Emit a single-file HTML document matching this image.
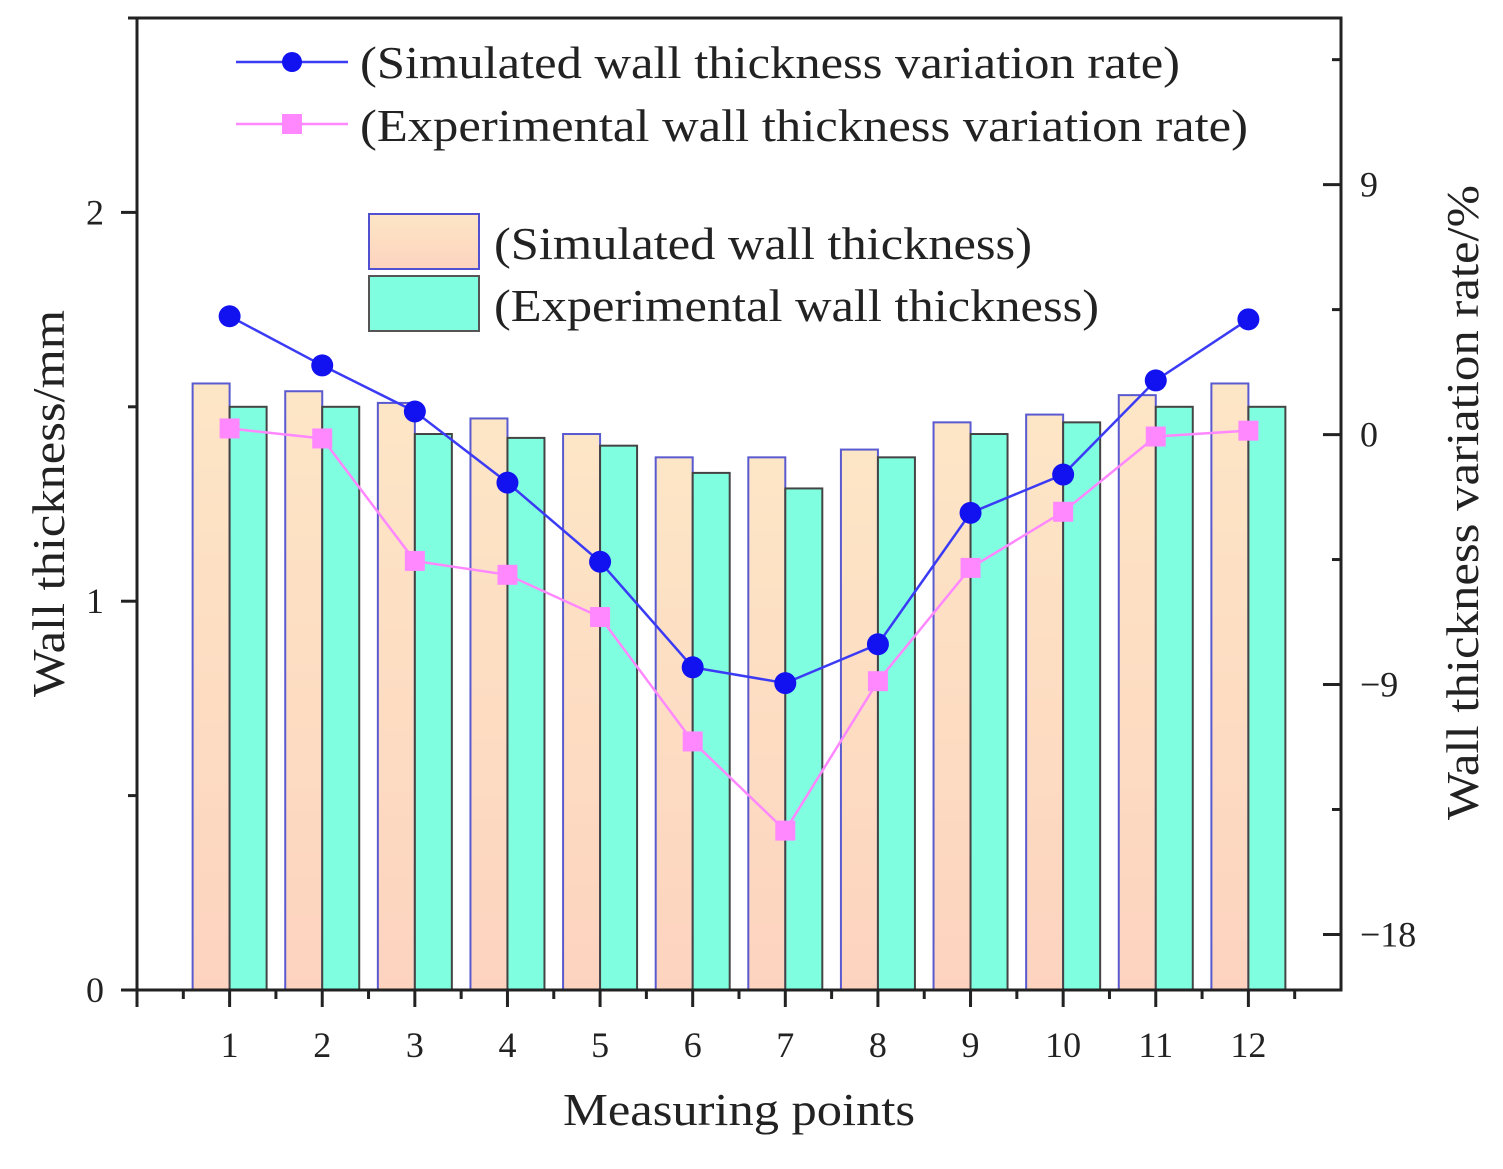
<!DOCTYPE html>
<html><head><meta charset="utf-8"><style>
body{margin:0;background:#fff}
svg text{font-family:"Liberation Serif",serif;fill:#222}
</style></head><body>
<svg id="chart" width="1503" height="1164" viewBox="0 0 1503 1164" xmlns="http://www.w3.org/2000/svg">
<defs>
<linearGradient id="peach" x1="0" y1="0" x2="0" y2="1"><stop offset="0" stop-color="#fde6c6"/><stop offset="1" stop-color="#fdd3bf"/></linearGradient>
</defs>
<g id="bars"></g>
<g id="lines"></g>
<g id="axes"></g>
<g id="legend">
  <line x1="236" y1="62" x2="348" y2="62" stroke="#3b3bf5" stroke-width="2.5"/>
  <circle cx="292" cy="62" r="10" fill="#1212f0"/>
  <text x="360" y="78" font-size="46" textLength="820" lengthAdjust="spacingAndGlyphs">(Simulated wall thickness variation rate)</text>
  <line x1="236" y1="124" x2="348" y2="124" stroke="#ff88ff" stroke-width="2.5"/>
  <rect x="282" y="114" width="20" height="20" fill="#ff88ff"/>
  <text x="360" y="141" font-size="46" textLength="888" lengthAdjust="spacingAndGlyphs">(Experimental wall thickness variation rate)</text>
  <rect x="369" y="214" width="110" height="55" fill="url(#peach)" stroke="#5050d0" stroke-width="2"/>
  <text x="494" y="259" font-size="46" textLength="538" lengthAdjust="spacingAndGlyphs">(Simulated wall thickness)</text>
  <rect x="369" y="276" width="110" height="55" fill="#80ffe0" stroke="#555" stroke-width="2"/>
  <text x="494" y="321" font-size="46" textLength="605" lengthAdjust="spacingAndGlyphs">(Experimental wall thickness)</text>
</g>
<text x="563" y="1125" font-size="46" textLength="352" lengthAdjust="spacingAndGlyphs">Measuring points</text>
<text transform="translate(64,697) rotate(-90)" font-size="46" textLength="387" lengthAdjust="spacingAndGlyphs">Wall thickness/mm</text>
<text transform="translate(1478,820) rotate(-90)" font-size="46" textLength="635" lengthAdjust="spacingAndGlyphs">Wall thickness variation rate/%</text>
</svg>
<script>
const categories=[1,2,3,4,5,6,7,8,9,10,11,12];
const simThickness=[1.56,1.54,1.51,1.47,1.43,1.37,1.37,1.39,1.46,1.48,1.53,1.56];
const expThickness=[1.50,1.50,1.43,1.42,1.40,1.33,1.29,1.37,1.43,1.46,1.50,1.50];
const simRate=[4.26,2.49,0.83,-1.73,-4.58,-8.38,-8.95,-7.55,-2.82,-1.44,1.95,4.15];
const expRate=[0.22,-0.14,-4.55,-5.05,-6.57,-11.05,-14.26,-8.88,-4.80,-2.78,-0.07,0.14];
const leftTicks=[0,1,2];
const rightTicks=[9,0,-9,-18];

const NS="http://www.w3.org/2000/svg";
const L=137,R=1341,T=18,B=990;
const x=v=>L+(v-0)/(13-0)*(R-L);
const yL=v=>B-(v-0)/(2.5-0)*(B-T);
const yR=v=>B-(v+20)/(35)*(B-T);
function mk(tag,attrs,parent){const e=document.createElementNS(NS,tag);for(const k in attrs)e.setAttribute(k,attrs[k]);parent.appendChild(e);return e;}
const bars=document.getElementById('bars'),lines=document.getElementById('lines'),axes=document.getElementById('axes');
const bw=37;
categories.forEach((c,i)=>{
  let r=mk('rect',{x:x(c)-bw,y:yL(simThickness[i]),width:bw,height:B-yL(simThickness[i]),fill:'url(#peach)',stroke:'#5a5ad0','stroke-width':2},bars);
  
  
  let e=mk('rect',{x:x(c),y:yL(expThickness[i]),width:bw,height:B-yL(expThickness[i]),fill:'#80ffe0',stroke:'#444','stroke-width':2},bars);
  
  
});
let p1=mk('polyline',{points:categories.map((c,i)=>x(c)+','+yR(expRate[i])).join(' '),fill:'none',stroke:'#ff88ff','stroke-width':2.5},lines);


categories.forEach((c,i)=>{
  let m=mk('rect',{x:x(c)-10,y:yR(expRate[i])-10,width:20,height:20,fill:'#ff88ff'},lines);
  
  
});
let p2=mk('polyline',{points:categories.map((c,i)=>x(c)+','+yR(simRate[i])).join(' '),fill:'none',stroke:'#3b3bf5','stroke-width':2.5},lines);


categories.forEach((c,i)=>{
  let m=mk('circle',{cx:x(c),cy:yR(simRate[i]),r:11,fill:'#1212f0'},lines);
  
  
});
let f=mk('rect',{x:L,y:T,width:R-L,height:B-T,fill:'none',stroke:'#222','stroke-width':3},axes);


for(let v=0.5;v<=12.5;v+=0.5){const maj=Number.isInteger(v);mk('line',{x1:x(v),y1:B,x2:x(v),y2:B+(maj?17:9),stroke:'#222','stroke-width':3},axes);}
mk('line',{x1:L,y1:B,x2:L,y2:B+17,stroke:'#222','stroke-width':3},axes);
categories.forEach(c=>{
  let t=mk('text',{x:x(c),y:1057,'font-size':36,'text-anchor':'middle'},axes);t.textContent=c;
  
  
});
for(let v=0;v<=2.5;v+=0.5){const maj=Number.isInteger(v);mk('line',{x1:L,y1:yL(v),x2:L-(maj?16:9),y2:yL(v),stroke:'#222','stroke-width':3},axes);}
leftTicks.forEach(v=>{
  let t=mk('text',{x:104,y:yL(v)+12,'font-size':36,'text-anchor':'end'},axes);t.textContent=v;
  
  
});
for(let v=-18;v<=13.5;v+=4.5){const maj=Math.abs(v%9)<1e-9;mk('line',{x1:R,y1:yR(v),x2:R-(maj?18:9),y2:yR(v),stroke:'#222','stroke-width':3},axes);}
rightTicks.forEach(v=>{
  let t=mk('text',{x:1360,y:yR(v)+12,'font-size':36},axes);t.textContent=v<0?'\u2212'+(-v):v;
  
  
});
</script>
</body></html>
